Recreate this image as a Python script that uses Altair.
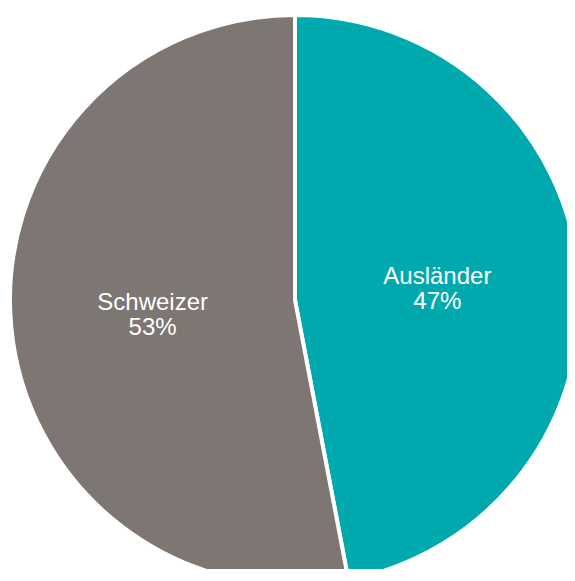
import altair as alt
import pandas as pd

categories = ["Ausländer", "Schweizer"]
values = [47, 53]
percent_labels = ["47%", "53%"]
colors = ["#00A9AE", "#7E7672"]

df = pd.DataFrame({
    "category": categories,
    "value": values,
    "label": [f"{c}\n{p}" for c, p in zip(categories, percent_labels)],
    "idx": list(range(len(categories))),
})

base = alt.Chart(df).encode(
    theta=alt.Theta("value:Q", stack=True),
    order=alt.Order("idx:O"),
    x=alt.value(287),
    y=alt.value(292),
)

arcs = base.mark_arc(outerRadius=285, stroke="white", strokeWidth=4).encode(
    color=alt.Color("category:N", scale=alt.Scale(domain=categories, range=colors), legend=None),
)

texts = base.mark_text(
    radius=143, color="white", font="Liberation Sans", fontSize=24,
    lineBreak="\n", lineHeight=25, align="center", baseline="alphabetic", dy=-3,
).encode(text="label:N")

chart = (arcs + texts).properties(
    width=559, height=561, padding=0, autosize=alt.AutoSizeParams(type="none"),
).configure_view(stroke=None)

chart.save("out.html", embed_options={"renderer": "svg", "actions": False})
